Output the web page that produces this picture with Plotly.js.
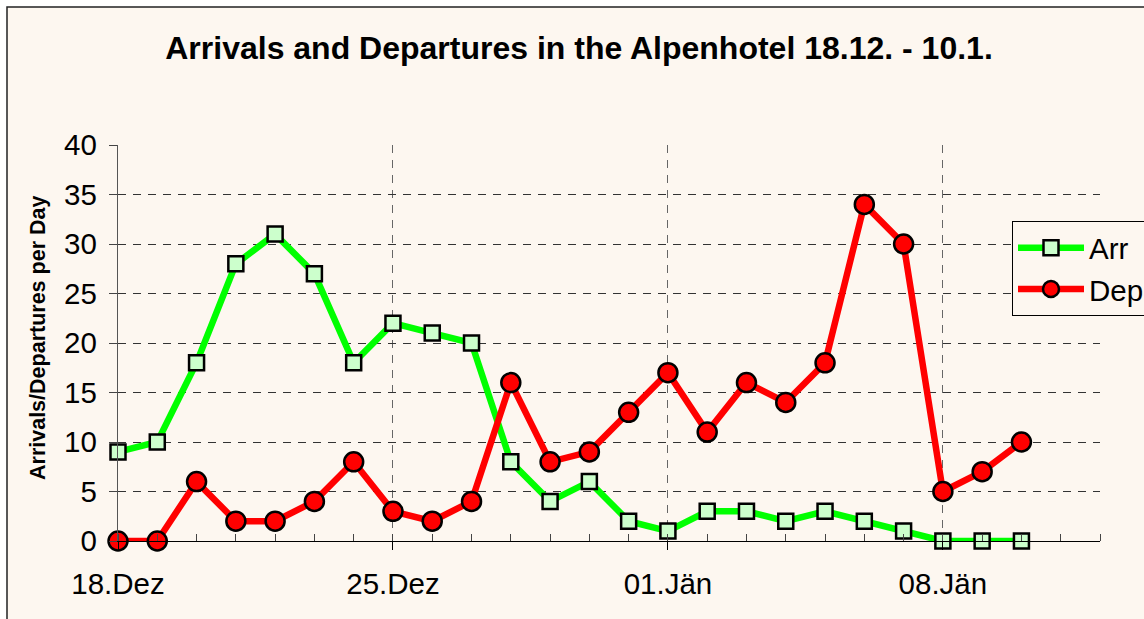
<!DOCTYPE html>
<html><head><meta charset="utf-8">
<script src="https://cdn.plot.ly/plotly-3.0.1.min.js"></script>
<style>html,body{margin:0;padding:0;background:#fff;}#chart{width:1144px;height:619px;}</style>
</head><body><div id="chart"></div>
<script>
const dates = ["2004-12-18","2004-12-19","2004-12-20","2004-12-21","2004-12-22","2004-12-23","2004-12-24","2004-12-25","2004-12-26","2004-12-27","2004-12-28","2004-12-29","2004-12-30","2004-12-31","2005-01-01","2005-01-02","2005-01-03","2005-01-04","2005-01-05","2005-01-06","2005-01-07","2005-01-08","2005-01-09","2005-01-10"];
const arrivals = [9,10,18,28,31,27,18,22,21,20,8,4,6,2,1,3,3,2,3,2,1,0,0,0];
const departures = [0,0,6,2,2,4,8,3,2,4,16,8,9,13,17,11,16,14,18,34,30,5,7,10];
const tickDates = ["2004-12-18","2004-12-25","2005-01-01","2005-01-08"];
const tickLabels = ["18.Dez","25.Dez","01.Jän","08.Jän"];
const FONT = "Liberation Sans, Arial, sans-serif";

const traces = [
  {x: dates, y: arrivals, name: "Arr", type: "scatter", mode: "lines+markers", legendgroup: "a",
   line: {color: "#00FF00", width: 6.5},
   marker: {symbol: "square", size: 15, color: "#CCFFCC", line: {color: "#000", width: 2.5}},
   cliponaxis: false},
  {x: dates, y: departures, name: "Dep", type: "scatter", mode: "lines+markers", legendgroup: "b",
   line: {color: "#FF0000", width: 6.5},
   marker: {symbol: "circle", size: 19, color: "#FF0000", line: {color: "#000", width: 2.5}},
   cliponaxis: false}
];

const layout = {
  width: 1144, height: 619,
  margin: {l: 118, r: 44, t: 145, b: 78, autoexpand: false},
  paper_bgcolor: "#FFFFFF",
  plot_bgcolor: "rgba(0,0,0,0)",
  font: {family: FONT, color: "#000"},
  showlegend: true,
  title: {text: "<b>Arrivals and Departures in the Alpenhotel 18.12. - 10.1.</b>",
          font: {family: FONT, size: 32, color: "#000"},
          xref: "container", x: 579/1144, xanchor: "center",
          yref: "container", y: 1 - 48/619, yanchor: "middle"},
  xaxis: {
    type: "date",
    range: ["2004-12-18", "2005-01-12"],
    tickvals: tickDates, ticktext: tickLabels,
    tickfont: {family: FONT, size: 29.5, color: "#000"},
    ticks: "outside", ticklen: 8, tickcolor: "#000", tickwidth: 1,
    ticklabelstandoff: 8,
    showline: true, linecolor: "#000", linewidth: 1.2,
    showgrid: true, gridcolor: "#666", griddash: "8px,7px", gridwidth: 1,
    minor: {dtick: 86400000, ticks: "inside", ticklen: 7, tickcolor: "#444", tickwidth: 1, showgrid: false},
    zeroline: false, fixedrange: true
  },
  yaxis: {
    range: [0, 40], dtick: 5, tick0: 0,
    tickfont: {family: FONT, size: 29.5, color: "#000"},
    ticks: "outside", ticklen: 8, tickcolor: "#444", tickwidth: 1,
    ticklabelstandoff: 6,
    showline: true, linecolor: "#555", linewidth: 1.2,
    showgrid: true, gridcolor: "#333", griddash: "8px,7px", gridwidth: 1,
    zeroline: false, fixedrange: true
  },
  legend: {
    xref: "container", yref: "container",
    x: 1012/1144, y: 1 - 221/619, xanchor: "left", yanchor: "top",
    bgcolor: "#FDF7F0", bordercolor: "#000", borderwidth: 1,
    font: {family: FONT, size: 29.5, color: "#000"},
    tracegroupgap: 0, itemwidth: 66
  },
  shapes: [{type: "rect", xref: "paper", yref: "paper", layer: "below",
            x0: (7-118)/982, x1: (1150-118)/982, y0: (541-630)/396, y1: (541-7)/396,
            fillcolor: "#FDF7F0", line: {color: "#222", width: 1.5}}],
  annotations: [{text: "<b>Arrivals/Departures per Day</b>", textangle: -90,
                 xref: "paper", yref: "paper", x: (38-118)/982, y: (541-338)/396,
                 xanchor: "center", yanchor: "middle", showarrow: false,
                 font: {family: FONT, size: 21.5, color: "#000"}}]
};

Plotly.newPlot("chart", traces, layout, {displayModeBar: false, staticPlot: true});
</script></body></html>
